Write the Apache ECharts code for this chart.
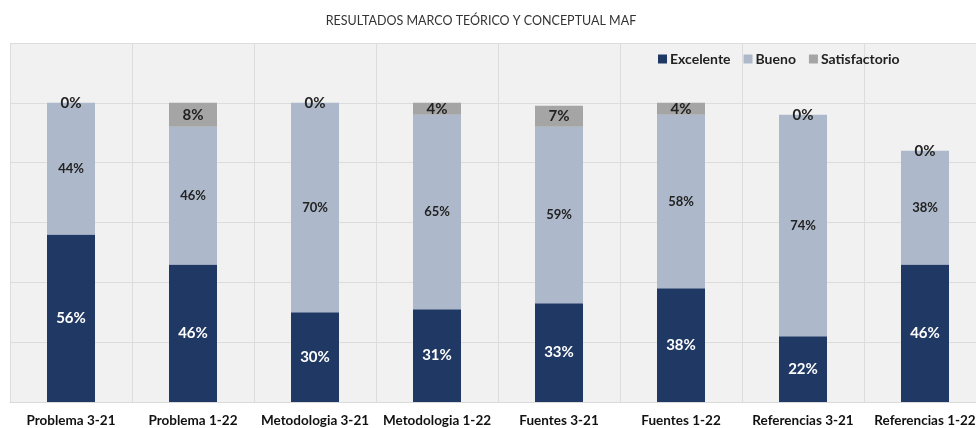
<!DOCTYPE html>
<html lang="es">
<head>
    <meta charset="UTF-8">
    <title>Resultados marco teórico y conceptual MAF</title>
    <style>
        html, body { margin: 0; padding: 0; background: #fff; overflow: hidden; }
        /* el gráfico original se sale un poco por la derecha */
        #chart { width: 996px; height: 428px; }
    </style>
</head>
<body>
    <div id="chart"></div>
    <script src="https://cdn.jsdelivr.net/npm/echarts@6/dist/echarts.min.js"></script>
    <script>
    var categorias = ['Problema 3-21', 'Problema 1-22', 'Metodologia 3-21', 'Metodologia 1-22',
        'Fuentes 3-21', 'Fuentes 1-22', 'Referencias 3-21', 'Referencias 1-22'];
    var excelente = [56, 46, 30, 31, 33, 38, 22, 46];
    var bueno = [44, 46, 70, 65, 59, 58, 74, 38];
    var satisfactorio = [0, 8, 0, 4, 7, 4, 0, 0];

    var fuente = 'Lato';
    var myChart = echarts.init(document.getElementById('chart'), null, { renderer: 'canvas' });

    function etiqueta(color, size) {
        return {
            show: true,
            position: 'inside',
            formatter: '{c}%',
            color: color,
            fontFamily: fuente,
            fontWeight: 'bold',
            fontSize: size
        };
    }

    var option = {
        animation: false,
        backgroundColor: '#fff',
        title: {
            text: 'RESULTADOS MARCO TEÓRICO Y CONCEPTUAL MAF',
            left: 476,
            textAlign: 'center',
            top: 9,
            textStyle: { fontFamily: fuente, fontSize: 12.5, fontWeight: 'normal', color: '#333' }
        },
        legend: {
            top: 47,
            left: 653,
            itemWidth: 9,
            itemHeight: 9,
            itemGap: 13,
            icon: 'rect',
            textStyle: { fontFamily: fuente, fontSize: 14, fontWeight: 'bold', color: '#222', padding: [0, 0, 0, -2] },
            data: ['Excelente', 'Bueno', 'Satisfactorio']
        },
        grid: {
            left: 10,
            right: 10,
            top: 43,
            bottom: 25,
            show: true,
            backgroundColor: '#f1f1f1',
            borderWidth: 0
        },
        xAxis: {
            type: 'category',
            data: categorias,
            axisLine: { lineStyle: { color: '#d9d9d9' } },
            axisTick: { show: false },
            splitLine: { show: true, interval: 0, lineStyle: { color: '#dcdcdc' } },
            axisLabel: {
                interval: 0,
                margin: 12,
                fontFamily: fuente,
                fontWeight: 'bold',
                fontSize: 13.5,
                color: '#111'
            }
        },
        yAxis: {
            type: 'value',
            min: 0,
            max: 120,
            interval: 20,
            axisLabel: { show: false },
            axisLine: { show: false },
            axisTick: { show: false },
            splitLine: { lineStyle: { color: '#dcdcdc' } }
        },
        series: [
            {
                name: 'Excelente',
                type: 'bar',
                stack: 'total',
                barWidth: 48,
                itemStyle: { color: '#203864' },
                label: etiqueta('#fff', 15),
                data: excelente
            },
            {
                name: 'Bueno',
                type: 'bar',
                stack: 'total',
                itemStyle: { color: '#adb9ca' },
                label: etiqueta('#222', 13),
                data: bueno
            },
            {
                name: 'Satisfactorio',
                type: 'bar',
                stack: 'total',
                itemStyle: { color: '#a5a5a5' },
                label: etiqueta('#222', 15),
                data: satisfactorio
            }
        ]
    };

    myChart.setOption(option);
    </script>
</body>
</html>
